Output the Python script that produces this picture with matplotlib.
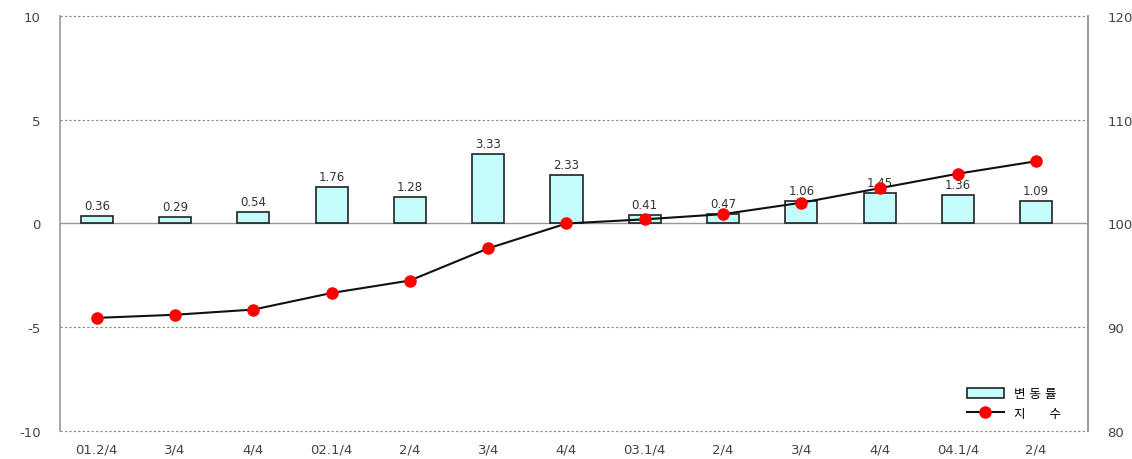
import matplotlib
matplotlib.use("Agg")
import matplotlib.pyplot as plt

plt.rcParams['font.family'] = ['DejaVu Sans', 'Noto Sans CJK KR']
plt.rcParams['axes.unicode_minus'] = False

quarters = ["01.2/4", "3/4", "4/4", "02.1/4", "2/4", "3/4", "4/4",
            "03.1/4", "2/4", "3/4", "4/4", "04.1/4", "2/4"]
change_rate = [0.36, 0.29, 0.54, 1.76, 1.28, 3.33, 2.33,
               0.41, 0.47, 1.06, 1.45, 1.36, 1.09]
index_values = [90.9, 91.2, 91.7, 93.3, 94.5, 97.6, 100.0,
                100.4, 100.9, 102.0, 103.4, 104.8, 106.0]

fig = plt.figure(figsize=(11.32, 4.6), dpi=100)
ax = fig.add_axes([0.053, 0.061, 0.908, 0.902])
x = list(range(len(quarters)))

bars = ax.bar(x, change_rate, width=0.41, color="#c4fcfc", edgecolor="#222222",
              linewidth=1.2, zorder=2)
for xi, v in zip(x, change_rate):
    ax.text(xi, v + 0.2, f"{v:.2f}", ha="center", va="bottom",
            fontsize=8.5, color="#333333", zorder=5)

ax.set_ylim(-10, 10)
ax.set_xlim(-0.47, 12.66)
ax.set_yticks([-10, -5, 0, 5, 10])
ax.set_xticks(x)
ax.set_xticklabels(quarters)
# dotted grid, including top and bottom frame lines
for yv in [-10, -5, 5, 10]:
    ax.axhline(yv, color="#888888", linestyle=(0, (2, 2)), linewidth=0.8,
               zorder=1, clip_on=False)
ax.axhline(0, color="#999999", linewidth=1.0, zorder=1)

for side in ["top", "bottom"]:
    ax.spines[side].set_visible(False)
for side in ["left", "right"]:
    ax.spines[side].set_color("#999999")
    ax.spines[side].set_linewidth(1.2)
ax.tick_params(length=0, labelsize=9.5, colors="#444444")
ax.tick_params(axis="y", pad=14)
ax.tick_params(axis="x", pad=8)

ax2 = ax.twinx()
line, = ax2.plot(x, index_values, color="#111111", linewidth=1.5,
                 marker="o", markersize=8, markerfacecolor="#ff0000",
                 markeredgecolor="#ff0000", zorder=4)
ax2.set_ylim(80, 120)
ax2.set_yticks([80, 90, 100, 110, 120])
ax2.tick_params(length=0, labelsize=9.5, colors="#444444", pad=14)
for side in ["top", "bottom", "left"]:
    ax2.spines[side].set_visible(False)
ax2.spines["right"].set_color("#999999")
ax2.spines["right"].set_linewidth(1.2)

ax2.legend([bars, line], ["변 동 률", "지      수"], loc="lower right",
           bbox_to_anchor=(0.985, 0.0), frameon=False, fontsize=9,
           handlelength=3, handleheight=0.8, labelspacing=0.5)

fig.savefig("out.png", dpi=100)
